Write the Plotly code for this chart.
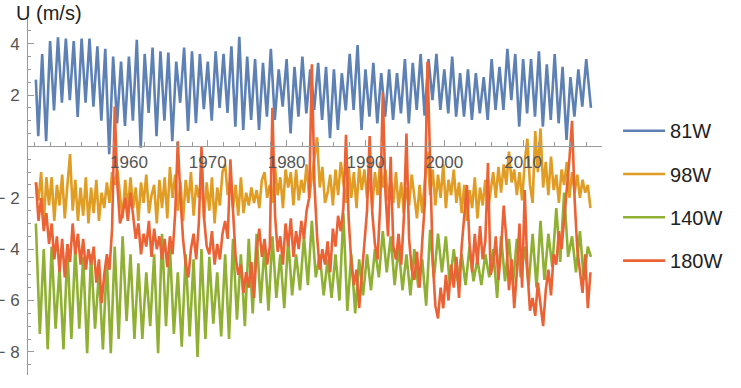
import plotly.graph_objects as go

# ---------------- data ----------------
series_names = ["81W", "98W", "140W", "180W"]
series_colors = ["#5E81B5", "#E19C24", "#8FB032", "#EB6235"]

# 81W: annual cycle -> trough (mid-year) and peak (start of year) values
blue_start = 2.6          # 1948.2
blue_troughs = [          # 1948.5 ... 2017.5
    0.4, 0.2, 1.4, 1.7, 1.8, 1.15, 1.7, 1.55, 1.0, -0.3, 0.9, 0.8,
    1.0, -0.05, 1.3, 0.4, 1.0, 0.2, 1.7, 0.6, 0.9, 1.45,
    1.0, 1.5, 1.3, 0.77, 0.64, 1.03, 0.64, 1.16, 1.03, 1.55,
    0.51, 1.16, 1.29, 1.42, 1.03, 0.32, 0.64, 1.4, 1.42, 0.64,
    1.16, 0.9, 1.16, 1.03, 1.29, 0.9, 1.42, 1.2, 1.8, 1.42,
    1.29, 1.16, 1.16, 1.03, 1.29, 1.03, 1.42, 1.42, 1.8, 0.77,
    1.29, 1.16, 0.77, 1.03, 0.9, 0.25, 1.16, 1.55,
]
blue_peaks = [            # 1949 ... 2018
    3.6, 4.1, 4.25, 4.2, 4.1, 4.2, 4.2, 3.9, 3.8, 3.5, 3.3,
    3.5, 4.15, 3.6, 3.85, 3.7, 3.65, 3.3, 3.85, 3.7, 3.6,
    3.3, 3.7, 3.6, 3.9, 4.27, 3.5, 3.4, 3.25, 3.8, 3.0,
    3.4, 3.1, 3.5, 3.0, 3.25, 3.1, 3.0, 2.85, 3.6, 3.95,
    3.0, 3.25, 2.85, 3.0, 2.85, 3.4, 3.25, 3.6, 3.4, 3.6,
    3.0, 3.5, 2.85, 3.0, 2.85, 2.7, 3.4, 3.1, 3.8, 3.6,
    3.4, 3.4, 3.7, 3.2, 3.6, 3.1, 2.7, 3.0, 3.4,
]
blue_end = 1.5            # 2018.6

# 140W: upper (early-year) and lower (mid-year) values of the annual swing
green_tops = [            # 1948 ... 2018
    -3.0, -4.0, -3.9, -4.7, -4.0, -3.9, -4.3, -4.2, -4.9, -4.4, -3.9, -3.5,
    -4.2, -4.55, -4.9, -4.2, -3.4, -3.9, -4.9, -4.2, -4.4, -4.0, -4.3, -4.9,
    -4.2, -3.6, -4.2, -3.6, -3.4, -3.9, -3.5, -4.2, -3.6, -4.2, -3.5, -2.9,
    -4.2, -4.4, -4.2, -2.6, -4.2, -4.4, -4.2, -4.0, -3.3, -3.5, -3.9, -4.2, -4.0,
    -4.4, -3.25, -3.4, -3.5, -4.0, -4.2, -3.9, -4.4, -4.2, -4.0, -3.5, -3.6,
    -3.6, -3.9, -3.4, -2.9, -3.4, -2.4, -1.8, -3.5, -3.3, -3.9,
]
green_bottoms = [         # 1948 ... 2017 (mid-year)
    -7.3, -7.9, -7.1, -7.9, -7.5, -7.1, -8.05, -7.1, -7.9, -8.05, -7.5, -6.8,
    -7.5, -7.5, -7.0, -8.05, -7.0, -7.3, -7.8, -7.4, -8.2, -7.5, -6.9, -7.4,
    -7.5, -6.75, -7.0, -6.5, -6.1, -6.4, -5.9, -6.3, -5.8, -5.6, -5.4, -5.1,
    -5.8, -5.9, -6.0, -6.4, -6.5, -5.8, -5.6, -5.1, -4.9, -5.4, -5.6, -5.8, -5.5,
    -6.2, -5.1, -4.9, -5.4, -5.25, -5.4, -5.25, -5.4, -5.1, -5.9, -5.25, -5.4,
    -5.1, -5.4, -5.5, -5.2, -4.7, -4.5, -4.3, -4.9, -5.2,
]
green_end = -4.3          # 2018.6

# 98W: three readings per year, 1948.2 onwards
orange_vals = [
    -1.4, -2.1, -1.0,  -3.0, -1.2, -2.3,  -1.2, -2.9, -1.5,  -2.3, -1.1, -2.8,
    -1.5, -0.3, -2.5,  -1.3, -2.9, -1.6,  -2.7, -1.2, -3.0,  -1.6, -2.6, -1.3,
    -2.9, -1.8, -2.4,  -1.4, -2.2, -1.0,  -1.5, -0.9, -1.9,  -2.8, -1.3, -2.5,
    -1.2, -2.4, -1.6,  -2.9, -1.4, -2.2,  -1.1, -2.6, -1.9,  -1.5, -3.0, -1.3,
    -2.4, -1.2, -2.8,  -0.8, -2.0, -1.1,  -2.5, -1.4, -2.9,  -1.3, -2.2, -1.0,
    -2.7, -1.5, -2.0,  -1.1, -2.8, -1.4,  -2.5, -1.2, -3.0,  -1.6, -2.3, -1.0,
    -0.7, -1.9, -1.3,  -2.4, -1.5, -2.7,  -1.2, -2.6, -1.8,  -2.3, -1.6, -2.2,
    -1.7, -2.4, -1.3,  -1.0, -2.0, -1.5,  -2.2, -0.8, -1.9,  -1.2, -2.4, -0.9,
    -1.6, -1.0, -2.3,  -0.9, -2.1, -1.3,  -1.8, -0.7, -2.0,  -1.2, -0.5, 0.35,
    -1.6, -0.8, -2.2,  -1.8, -1.1, -2.3,  -0.9, -1.9, -0.6,  -1.5, -2.2, -0.8,
    -2.0, -1.0, -2.4,  -0.8, -1.7, -0.9,  -2.0, -1.2, -2.4,  -1.0, -1.9, -0.6,
    -1.6, -0.9, -2.1,  -1.3, -2.2, -1.0,  -2.4, -1.4, -2.6,  -1.6, -2.3, -1.1,
    -1.9, -2.8, -1.5,  -2.6, -1.3, -0.2,  -1.9, -0.9, -2.3,  -1.1, -2.0, -0.7,
    -2.4, -1.3, -1.9,  -0.9, -2.2, -1.4,  -2.6, -1.5, -2.9,  -1.7, -2.4, -1.2,
    -2.8, -1.6, -2.3,  -1.3, -2.5, -1.8,  -1.0, -2.0, -0.8,  -1.8, -0.7, -1.5,
    -0.2, -1.4, -0.9,  -1.9, -1.0, -2.1,  -0.6, 0.3, -1.5,  -2.2, 0.6, -1.0,
    0.7, -1.6, -0.6,  -1.9, -0.4, -1.7,  -1.1, -2.2, -0.9,  -1.5, -0.6, -2.0,
    -1.0, -1.8, -1.1,  -2.0, -1.3, -1.8,  -1.5, -2.4,
]

# 180W: three readings per year, 1948.2 onwards
red_vals = [
    -1.4, -2.9, -2.0,  -3.3, -2.6, -3.8,  -3.0, -4.4, -3.5,  -4.9, -3.6, -5.1,
    -3.8, -4.5, -3.0,  -4.2, -3.4, -4.6,  -3.6, -4.8, -4.0,  -4.6, -3.9, -5.3,
    -4.4, -6.1, -5.0,  -4.2, -4.8, -3.2,  1.55, -1.5, -3.0,  -2.6, -2.0, -2.9,
    -1.8, -2.8, -3.6,  -3.0, -4.2, -3.4,  -3.9, -2.9, -4.3,  -3.2, -4.0, -3.5,
    -4.4, -3.6, -4.7,  -3.5, -4.2, -2.6,  0.2, -2.0, -3.6,  -4.6, -5.1, -4.0,
    -3.4, -4.4, -3.0,  0.0, -2.8, -3.9,  -4.2, -3.3, -4.6,  -3.8, -4.4, -3.4,
    -2.9, -3.6, -0.5,  -2.5, -4.3, -5.0,  -4.6, -5.7, -4.9,  -5.5, -4.5, -5.9,
    -4.0, -3.2, -4.3,  -3.6, -4.6, -3.9,  1.5, -2.7, -4.1,  -3.5, -4.6, -3.0,
    -3.9, -2.8, -4.3,  -3.3, -4.0, -2.9,  -3.6, -2.5, -2.0,  3.2, -1.5, -3.5,
    -4.8, -4.0, -4.6,  -3.7, -4.9, -3.2,  -3.9, -2.7, -3.3,  -2.4, 0.45, -2.8,
    -4.5, -5.4, -4.8,  -6.3, -5.0, -3.5,  -2.5, 0.4, -2.6,  -3.8, -4.4, -2.3,
    2.1, -1.8, -3.5,  -0.4, -3.9, -4.4,  -3.4, -4.6, -2.8,  0.5, -3.6, -4.8,
    -5.2, -4.1, -5.5,  -3.7, -2.2, 3.3,  -1.0, -4.5, -6.2,  -6.7, -5.5, -6.3,
    -5.0, -6.0, -4.6,  -5.5, -4.3, -5.9,  -3.9, -2.8, -1.5,  -3.8, -4.9, -3.4,
    -4.6, -3.1, -4.4,  -3.7, -0.65, -5.0,  -4.6, -3.5, -5.2,  -4.0, -2.3, -3.6,
    -5.6, -4.4, -6.3,  -4.9, -3.0, -5.5,  -1.7, -4.8, -6.4,  -5.9, -6.6, -5.3,
    -6.2, -7.0, -5.6,  -4.8, -5.8, -4.2,  -4.6, -3.3, -4.0,  -2.9, -1.9, -0.5,
    1.0, -2.1, -4.0,  -4.8, -5.7, -4.2,  -6.3, -4.9,
]

x_tick_years = [1960, 1970, 1980, 1990, 2000, 2010]
y_tick_vals = [-8, -6, -4, -2, 2, 4]
y_tick_text = ["\u2212\u00a08", "\u2212\u00a06", "\u2212\u00a04", "\u2212\u00a02", "2", "4"]

# ---------------- assemble time axes ----------------
blue_t, blue_v = [1948.2], [blue_start]
for i in range(len(blue_peaks)):
    blue_t += [1948.5 + i, 1949.0 + i]
    blue_v += [blue_troughs[i], blue_peaks[i]]
blue_t.append(2018.6)
blue_v.append(blue_end)

green_t, green_v = [], []
for i in range(len(green_tops)):
    green_t.append(1948.2 + i)
    green_v.append(green_tops[i])
    if i < len(green_bottoms):
        green_t.append(1948.7 + i)
        green_v.append(green_bottoms[i])
green_t.append(2018.6)
green_v.append(green_end)

orange_t = [1948.2 + k / 3 for k in range(len(orange_vals))]
red_t = [1948.2 + k / 3 for k in range(len(red_vals))]

xs = [blue_t, orange_t, green_t, red_t]
ys = [blue_v, orange_vals, green_v, red_vals]

# ---------------- figure ----------------
fig = go.Figure()
for name, color, x, y in zip(series_names, series_colors, xs, ys):
    fig.add_trace(go.Scatter(x=x, y=y, mode="lines", name=name,
                             legendgroup=name,
                             line=dict(color=color, width=2.6)))

y_lo, y_hi = -8.9, 5.0
axis_col = "#9a9a9a"
tick_font = dict(family="Liberation Sans, Arial, sans-serif", size=17, color="#555555")

fig.update_layout(
    width=741, height=388,
    margin=dict(l=28, r=139, t=18, b=13, autoexpand=False),
    paper_bgcolor="white", plot_bgcolor="white",
    showlegend=True,
    legend=dict(x=1.028, y=0.739, xanchor="left", yanchor="top",
                font=dict(family="Liberation Sans, Arial, sans-serif", size=20, color="#222222"),
                itemwidth=42, tracegroupgap=14.3, bgcolor="rgba(0,0,0,0)"),
    xaxis=dict(range=[1947.2, 2020.0], anchor="free",
               position=(0 - y_lo) / (y_hi - y_lo),
               showline=True, linecolor=axis_col, linewidth=1,
               ticks="inside", ticklen=6, tickcolor=axis_col,
               tickvals=x_tick_years, ticktext=[str(v) for v in x_tick_years],
               tickfont=tick_font, showgrid=False, zeroline=False,
               minor=dict(ticks="inside", ticklen=4, tickcolor=axis_col,
                          tick0=1948, dtick=2, showgrid=False),
               automargin=False),
    yaxis=dict(range=[y_lo, y_hi], showline=True, linecolor=axis_col, linewidth=1,
               ticks="inside", ticklen=6, tickcolor=axis_col,
               tickvals=y_tick_vals, ticktext=y_tick_text, tickfont=tick_font,
               ticklabelstandoff=4,
               showgrid=False, zeroline=False,
               minor=dict(ticks="inside", ticklen=3, tickcolor=axis_col,
                          tick0=0, dtick=0.5, showgrid=False),
               automargin=False),
    annotations=[dict(text="U (m/s)", xref="paper", yref="paper",
                      x=(14 - 28) / 574, y=(375 - 0) / 357,
                      xanchor="left", yanchor="top", showarrow=False,
                      font=dict(family="Liberation Sans, Arial, sans-serif", size=20, color="#222222"))],
)

fig.write_html("out.html")
